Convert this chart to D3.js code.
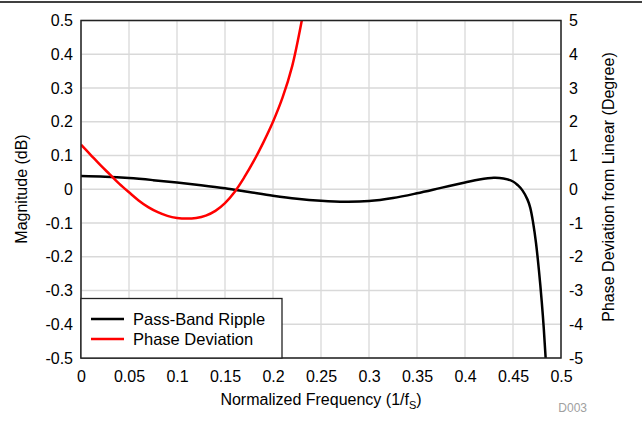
<!DOCTYPE html>
<html lang="en">
<head>
    <meta charset="utf-8">
    <title>Pass-Band Ripple</title>
    <script src="https://d3js.org/d3.v7.min.js" charset="utf-8"></script>
    <style>
        body { margin: 0; background: #fff; }
        text { font-family: "Liberation Sans", Arial, sans-serif; }
    </style>
</head>
<body>

    <script>

    // magnitude ripple in dB (left axis)
    var rippleFreq = [0, 0.025, 0.05, 0.075, 0.1, 0.125, 0.15, 0.175, 0.2, 0.225, 0.25, 0.275, 0.3, 0.325, 0.35, 0.375, 0.4, 0.415, 0.43, 0.44, 0.45, 0.455, 0.46, 0.465, 0.468, 0.471, 0.474, 0.477, 0.48, 0.482, 0.484, 0.486]
    var rippleDb   = [0.039, 0.037, 0.033, 0.027, 0.02, 0.012, 0.003, -0.008, -0.019, -0.028, -0.034, -0.037, -0.035, -0.026, -0.012, 0.004, 0.02, 0.029, 0.034, 0.032, 0.023, 0.012, -0.004, -0.03, -0.055, -0.1, -0.16, -0.24, -0.335, -0.41, -0.5, -0.6]

    // phase deviation in degrees (right axis)
    var phaseFreq = [0, 0.01, 0.02, 0.03, 0.04, 0.05, 0.06, 0.07, 0.08, 0.09, 0.1, 0.11, 0.12, 0.13, 0.14, 0.15, 0.16, 0.17, 0.18, 0.19, 0.2, 0.21, 0.22, 0.23, 0.235]
    var phaseDeg  = [1.32, 1.02, 0.72, 0.44, 0.16, -0.09, -0.33, -0.53, -0.68, -0.79, -0.85, -0.87, -0.85, -0.78, -0.64, -0.41, -0.08, 0.35, 0.84, 1.39, 2.0, 2.72, 3.65, 5.0, 5.8]

    var xTicks = [0, 0.05, 0.1, 0.15, 0.2, 0.25, 0.3, 0.35, 0.4, 0.45, 0.5]
    var leftTicks = [0.5, 0.4, 0.3, 0.2, 0.1, 0, -0.1, -0.2, -0.3, -0.4, -0.5]
    var rightTicks = [5, 4, 3, 2, 1, 0, -1, -2, -3, -4, -5]

    var seriesNames = ["Pass-Band Ripple", "Phase Deviation"]
    var seriesColors = ["#000000", "#ff0000"]

    var w = 642, h = 427
    var pLeft = 81, pRight = 561, pTop = 20.5, pBottom = 358

    var svg = d3.select("body").append("svg").attr("width", w).attr("height", h)

    // rule across the top of the page
    svg.append("line").attr("x1", 0).attr("x2", w).attr("y1", 2).attr("y2", 2)
        .attr("stroke", "#000").attr("stroke-width", 1.5)

    var xScale = d3.scaleLinear().domain([0, 0.5]).range([pLeft, pRight])
    var yLeft = d3.scaleLinear().domain([-0.5, 0.5]).range([pBottom, pTop])
    var yRight = d3.scaleLinear().domain([-5, 5]).range([pBottom, pTop])

    // grid
    svg.append("g").selectAll("line").data(xTicks).join("line")
        .attr("x1", function(d){return xScale(d)}).attr("x2", function(d){return xScale(d)})
        .attr("y1", pTop).attr("y2", pBottom)
        .attr("stroke", "#d9d9d9").attr("stroke-width", 1.3)
    svg.append("g").selectAll("line").data(leftTicks).join("line")
        .attr("y1", function(d){return yLeft(d)}).attr("y2", function(d){return yLeft(d)})
        .attr("x1", pLeft).attr("x2", pRight)
        .attr("stroke", "#d9d9d9").attr("stroke-width", 1.3)

    // plain hyphen for negatives, like the original
    function fmt(d) { return String(d) }

    var xAxis = d3.axisBottom(xScale).tickValues(xTicks).tickSize(0).tickPadding(13).tickFormat(fmt)
    var lAxis = d3.axisLeft(yLeft).tickValues(leftTicks).tickSize(0).tickPadding(8).tickFormat(fmt)
    var rAxis = d3.axisRight(yRight).tickValues(rightTicks).tickSize(0).tickPadding(8).tickFormat(fmt)

    function styleAxis(g) {
        g.select(".domain").remove()
        g.selectAll("text").attr("font-size", 16).attr("fill", "#000")
            .style("font-family", "'Liberation Sans', Arial, sans-serif")
    }
    svg.append("g").attr("transform", "translate(0," + pBottom + ")").call(xAxis).call(styleAxis)
    svg.append("g").attr("transform", "translate(" + pLeft + ",0)").call(lAxis).call(styleAxis)
    svg.append("g").attr("transform", "translate(" + pRight + ",0)").call(rAxis).call(styleAxis)

    // series, clipped to the plot
    svg.append("clipPath").attr("id", "plot").append("rect")
        .attr("x", pLeft).attr("y", pTop).attr("width", pRight - pLeft).attr("height", pBottom - pTop)

    var rippleLine = d3.line().curve(d3.curveCatmullRom.alpha(0.5))
        .x(function(d, i){return xScale(rippleFreq[i])})
        .y(function(d){return yLeft(d)})
    var phaseLine = d3.line().curve(d3.curveCatmullRom.alpha(0.5))
        .x(function(d, i){return xScale(phaseFreq[i])})
        .y(function(d){return yRight(d)})

    var plot = svg.append("g").attr("clip-path", "url(#plot)")
    plot.append("path").datum(rippleDb).attr("d", rippleLine).attr("fill", "none")
        .attr("stroke", seriesColors[0]).attr("stroke-width", 2.5)
    plot.append("path").datum(phaseDeg).attr("d", phaseLine).attr("fill", "none")
        .attr("stroke", seriesColors[1]).attr("stroke-width", 2.5)

    // frame
    svg.append("rect").attr("x", pLeft).attr("y", pTop).attr("width", pRight - pLeft).attr("height", pBottom - pTop)
        .attr("fill", "none").attr("stroke", "#222").attr("stroke-width", 1.5)

    // legend
    var lg = svg.append("g")
    lg.append("rect").attr("x", pLeft).attr("y", 298.5).attr("width", 201).attr("height", pBottom - 298.5)
        .attr("fill", "#fff").attr("stroke", "#222").attr("stroke-width", 1.3)
    seriesNames.forEach(function(name, i) {
        var yy = 319 + i * 20
        lg.append("line").attr("x1", 91).attr("x2", 124).attr("y1", yy).attr("y2", yy)
            .attr("stroke", seriesColors[i]).attr("stroke-width", 2.5)
        lg.append("text").attr("x", 133).attr("y", yy + 6).attr("font-size", 16.5).text(name)
    })

    // axis titles
    var xt = svg.append("text").attr("x", 321).attr("y", 405).attr("text-anchor", "middle").attr("font-size", 16)
    xt.append("tspan").text("Normalized Frequency (1/f")
    xt.append("tspan").attr("font-size", 11).attr("dy", 4).text("S")
    xt.append("tspan").attr("dy", -4).text(")")

    svg.append("text").attr("transform", "translate(27,189) rotate(-90)").attr("text-anchor", "middle")
        .attr("font-size", 16).text("Magnitude (dB)")
    svg.append("text").attr("transform", "translate(614,187) rotate(-90)").attr("text-anchor", "middle")
        .attr("font-size", 16).text("Phase Deviation from Linear (Degree)")

    svg.append("text").attr("x", 587).attr("y", 412).attr("text-anchor", "end").attr("font-size", 12)
        .attr("fill", "#a0a0a0").text("D003")

    </script>

</body>
</html>
